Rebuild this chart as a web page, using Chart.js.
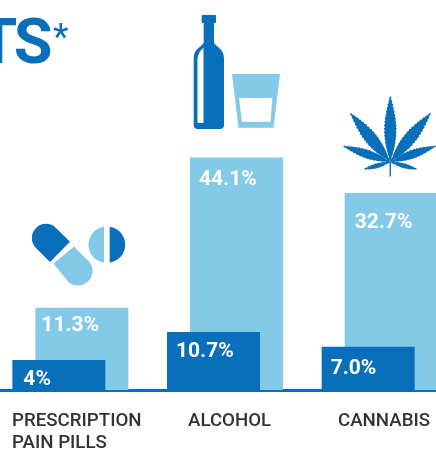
<!DOCTYPE html>
<html>
<head>
<meta charset="utf-8">
<style>
html,body{margin:0;padding:0;width:436px;height:449px;overflow:hidden;background:#fff}
#wrap{position:relative;width:436px;height:449px;overflow:hidden}
#cv{position:absolute;left:-7px;top:0;width:464px;height:460px}
#icons{position:absolute;left:0;top:0}
#title{position:absolute;right:383.5px;top:7px;font:700 63px/1.1 Roboto,sans-serif;color:#0a6fba;white-space:nowrap}
#title span{margin-right:-3.5px}
#star{position:absolute;left:53px;top:18px;font:400 36px/1.1 Roboto,sans-serif;color:#0a6fba}
</style>
<script src="https://cdn.jsdelivr.net/npm/chart.js@4"></script>
</head>
<body>
<div id="wrap">
<canvas id="cv" width="464" height="460"></canvas>
<div id="title"><span>T</span>S</div><div id="star">*</div>
<svg id="icons" width="436" height="449" viewBox="0 0 436 449">
  <!-- bottle -->
  <path fill="#0a6fba" d="M203 15h12a1 1 0 0 1 1 1v6a1 1 0 0 1-1 1h-1v19c0 4 10 6 10 16v67a4 4 0 0 1-4 4h-22.300a4 4 0 0 1-4-4V58c0-10 10-12 10-16V23h-1a1 1 0 0 1-1-1v-6a1 1 0 0 1 1-1z"/>
  <path fill="#fff" d="M197.500 123V60c0-6 3-10 6-12v75z"/>
  <!-- glass -->
  <path fill="#85c9e8" d="M232 74h48l-6.500 53.700h-35z"/>
  <path fill="#fff" d="M239 98h33.300l-1.800 23.700H242z"/>
  <!-- capsule -->
  <path fill="#0a6fba" d="M70 241.700 50 262 36 248a14 14 0 0 1 20-20z"/>
  <path fill="#85c9e8" d="M53.500 263.500 74 246.500 88.500 261a14.500 14.500 0 0 1-20.500 20.500z"/>
  <!-- tablet -->
  <path fill="#85c9e8" d="M104 226.700A18.200 18.200 0 0 0 104 262.700z"/>
  <path fill="#0a6fba" d="M109.700 226.700A18.200 18.200 0 0 1 109.700 262.700z"/>
  <!-- leaf -->
  <g id="leaf" fill="#0a6fba"></g>
  <rect x="389.600" y="162" width="1.400" height="14.500" fill="#0a6fba"/>
</svg>
</div>
<script>
const categories = [["PRESCRIPTION","PAIN PILLS"],"ALCOHOL","CANNABIS"];
const darkLabels = ["4%","10.7%","7.0%"];
const lightLabels = ["11.3%","44.1%","32.7%"];
const darkValues = [5.7,11.0,8.2];
const lightValues = [15.6,44.1,37.4];

const DARK="#0a6fba", LIGHT="#85c9e8";

// icon: serrated cannabis leaflets
(function(){
  const c=[390.3,162];
  const tips=[[390.3,96,6.4],[350.3,113,6.6],[430.7,113,6.6],[343,146,4.6],[436,146,4.6],[364,169.3,2.6],[417,169.3,2.6]];
  const g=document.getElementById('leaf');
  tips.forEach(t=>{
    const dx=t[0]-c[0],dy=t[1]-c[1],L=Math.hypot(dx,dy),ux=dx/L,uy=dy/L,nx=-uy,ny=ux;
    const teeth=Math.round(L/3.5),side=s=>{const a=[];for(let i=1;i<teeth;i++){const f=i/teeth;
      const w=t[2]*Math.sin(Math.PI*Math.pow(f,0.9));
      const p=(ff,ww)=>[c[0]+ux*L*ff+nx*ww*s,c[1]+uy*L*ff+ny*ww*s];
      a.push(p(f,w*0.86),p(f+0.6/teeth,w));}return a;};
    const pts=[c].concat(side(1),[[t[0],t[1]]],side(-1).reverse());
    const el=document.createElementNS('http://www.w3.org/2000/svg','polygon');
    el.setAttribute('points',pts.map(p=>p[0].toFixed(1)+','+p[1].toFixed(1)).join(' '));
    g.appendChild(el);
  });
})();

// per-label nudges (left inset, baseline below bar top), one per bar
const insetDark=[11,9,9], dropDark=[25,25,27];
const insetLight=[6,9,10], dropLight=[23.500,27.500,35.500];
const tickShift=[-58.300,-37,-41.700];

const valueText={
  id:'valueText',
  afterDatasetsDraw(chart){
    const ctx=chart.ctx;
    ctx.save();
    ctx.fillStyle='#fff';
    ctx.font='700 21px Roboto, sans-serif';
    ctx.textAlign='left';
    ctx.textBaseline='alphabetic';
    [[1,lightLabels,insetLight,dropLight],[0,darkLabels,insetDark,dropDark]].forEach(([d,txt,ins,drop])=>{
      chart.getDatasetMeta(d).data.forEach((b,i)=>{
        ctx.fillText(txt[i],b.x-b.width/2+ins[i],b.y+drop[i]);
      });
    });
    ctx.restore();
  }
};
const shiftTicks={
  id:'shiftTicks',
  afterLayout(chart){
    chart.scales.x.getLabelItems(chart.chartArea).forEach((it,i)=>{it.options.translation[0]+=tickShift[i];});
  }
};

new Chart(document.getElementById('cv'),{
  type:'bar',
  data:{labels:categories,datasets:[
    {label:'dark',data:darkValues,backgroundColor:DARK,borderWidth:0},
    {label:'light',data:lightValues,backgroundColor:LIGHT,borderWidth:0}
  ]},
  options:{
    responsive:false,animation:false,
    devicePixelRatio:1,
    layout:{padding:0},
    categoryPercentage:0.2974,
    barPercentage:4.043,
    plugins:{legend:{display:false},tooltip:{enabled:false},title:{display:false}},
    scales:{
      x:{
        grid:{display:false,drawTicks:false},
        border:{display:true,color:DARK,width:3},
        afterFit(s){s.height=70;s.paddingLeft=0;s.paddingRight=0;},
        ticks:{color:'#333',align:'start',padding:21,maxRotation:0,autoSkip:false,font:{family:'Roboto, sans-serif',size:18.7,weight:'500',lineHeight:1.14}}
      },
      y:{display:false,min:0,max:74}
    }
  },
  plugins:[valueText,shiftTicks]
});
</script>
</body>
</html>
